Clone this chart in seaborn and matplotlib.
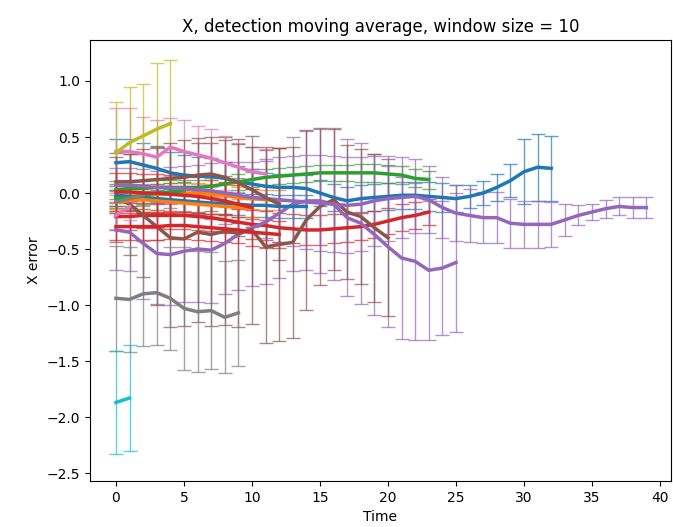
import matplotlib
matplotlib.use("Agg")
import matplotlib.pyplot as plt
import seaborn as sns
import pandas as pd

# ---- data (mean and symmetric error per series; x = time index 0..n-1) ----
blue1_y = [0.27,0.28,0.25,0.22,0.18,0.16,0.15,0.15,0.13,0.10,0.08,0.06,0.05,0.05,0.04,0.00,-0.04,-0.07,-0.05,-0.04,-0.03,-0.02,-0.02,-0.03,-0.04,-0.05,-0.03,0.00,0.05,0.11,0.19,0.23,0.22]
blue1_e = [0.21,0.20,0.20,0.19,0.19,0.18,0.17,0.16,0.15,0.14,0.13,0.12,0.12,0.12,0.12,0.12,0.12,0.12,0.12,0.12,0.12,0.12,0.12,0.13,0.13,0.12,0.10,0.11,0.12,0.15,0.29,0.30,0.29]
orange1_y = [-0.04,-0.03,-0.02,-0.01,0.00,0.00,0.00,-0.01,-0.02,-0.04,-0.05,-0.06,-0.06]
orange1_e = [0.10,0.09,0.09,0.09,0.09,0.09,0.09,0.09,0.09,0.09,0.09,0.09,0.09]
green1_y = [0.03,0.04,0.04,0.05,0.05,0.05,0.05,0.06,0.08,0.10,0.12,0.14,0.15,0.16,0.17,0.18,0.18,0.18,0.18,0.18,0.17,0.16,0.13,0.12]
green1_e = [0.08,0.08,0.07,0.07,0.07,0.07,0.07,0.07,0.07,0.07,0.07,0.07,0.07,0.07,0.07,0.07,0.07,0.07,0.08,0.08,0.08,0.08,0.08,0.08]
red1_y = [-0.21,-0.21,-0.20,-0.20,-0.20,-0.20,-0.21,-0.22,-0.24,-0.26,-0.28,-0.29,-0.31,-0.32,-0.33,-0.33,-0.32,-0.31,-0.30,-0.28,-0.25,-0.22,-0.20,-0.17]
red1_e = [0.12,0.12,0.11,0.11,0.12,0.12,0.12,0.12,0.12,0.12,0.13,0.13,0.13,0.13,0.13,0.13,0.13,0.13,0.12,0.12,0.12,0.12,0.12,0.12]
purple1_y = [-0.33,-0.35,-0.45,-0.54,-0.55,-0.52,-0.50,-0.51,-0.45,-0.37,-0.31,-0.26,-0.18,-0.10,-0.07,-0.07,-0.10,-0.22,-0.27,-0.37,-0.48,-0.58,-0.61,-0.69,-0.67,-0.62]
purple1_e = [0.36,0.35,0.50,0.45,0.45,0.45,0.47,0.47,0.45,0.50,0.52,0.55,0.58,0.60,0.62,0.64,0.68,0.70,0.72,0.72,0.72,0.72,0.70,0.62,0.60,0.62]
brown1_y = [-0.04,-0.10,-0.20,-0.30,-0.40,-0.41,-0.35,-0.37,-0.34,-0.36,-0.33,-0.48,-0.46,-0.44,-0.24,-0.12,-0.06,-0.17,-0.21,-0.31,-0.40]
brown1_e = [0.40,0.45,0.55,0.70,0.80,0.78,0.80,0.82,0.84,0.84,0.84,0.86,0.86,0.85,0.80,0.70,0.63,0.60,0.60,0.66,0.70]
pink1_y = [0.37,0.37,0.35,0.32,0.41,0.37,0.34,0.31,0.27,0.23,0.19,0.17]
pink1_e = [0.39,0.39,0.33,0.33,0.26,0.28,0.26,0.26,0.24,0.22,0.22,0.22]
gray1_y = [-0.94,-0.95,-0.90,-0.89,-0.94,-1.03,-1.06,-1.05,-1.11,-1.07]
gray1_e = [0.47,0.47,0.47,0.47,0.46,0.55,0.54,0.52,0.50,0.47]
olive1_y = [0.36,0.45,0.51,0.57,0.62]
olive1_e = [0.45,0.50,0.46,0.59,0.57]
cyan1_y = [-1.87,-1.83]
cyan1_e = [0.46,0.47]
blue2_y = [-0.02,-0.03,-0.04,-0.05,-0.06,-0.07,-0.08,-0.09,-0.09,-0.10,-0.11,-0.11,-0.12,-0.12,-0.12]
blue2_e = [0.10,0.10,0.10,0.10,0.10,0.10,0.10,0.10,0.10,0.10,0.10,0.10,0.10,0.10,0.10]
orange2_y = [-0.08,-0.07,-0.06,-0.07,-0.08,-0.09,-0.10,-0.11,-0.12,-0.13,-0.13]
orange2_e = [0.08,0.08,0.08,0.08,0.08,0.08,0.08,0.08,0.08,0.08,0.08]
green2_y = [-0.05,-0.04,-0.02,0.00,0.01,0.02]
green2_e = [0.08,0.08,0.08,0.08,0.08,0.08]
red2_y = [-0.30,-0.30,-0.30,-0.30,-0.29,-0.29,-0.30,-0.31,-0.32,-0.33,-0.35,-0.36,-0.37]
red2_e = [0.12,0.12,0.12,0.12,0.12,0.12,0.12,0.12,0.12,0.12,0.12,0.12,0.12]
red3_y = [0.01,0.01,0.00,0.00,-0.01,-0.02,-0.03,-0.05,-0.07,-0.10,-0.13]
red3_e = [0.17,0.17,0.17,0.17,0.17,0.17,0.17,0.17,0.17,0.17,0.17]
purple2_y = [0.07,0.07,0.06,0.05,0.05,0.04,0.03,0.02,0.00,-0.02,-0.04,-0.05,-0.06,-0.07,-0.08,-0.09,-0.10,-0.11,-0.10,-0.07,-0.05,-0.04,-0.03,-0.06,-0.13,-0.18,-0.20,-0.22,-0.22,-0.27,-0.28,-0.28,-0.28,-0.24,-0.20,-0.17,-0.14,-0.12,-0.13,-0.13]
purple2_e = [0.15,0.15,0.15,0.15,0.18,0.20,0.22,0.25,0.28,0.30,0.32,0.35,0.38,0.40,0.42,0.43,0.43,0.43,0.42,0.40,0.38,0.36,0.33,0.30,0.27,0.25,0.24,0.23,0.23,0.22,0.21,0.21,0.20,0.14,0.09,0.07,0.08,0.08,0.09,0.09]
brown2_y = [0.10,0.10,0.11,0.12,0.13,0.14,0.16,0.17,0.14,0.09,0.03,-0.04,-0.10]
brown2_e = [0.22,0.25,0.28,0.30,0.32,0.33,0.33,0.33,0.33,0.35,0.38,0.45,0.50]
pink2_y = [-0.20,-0.12]
pink2_e = [0.12,0.12]
gray2_y = [-0.08,-0.05,-0.02]
gray2_e = [0.10,0.10,0.10]

title = "X, detection moving average, window size = 10"
x_label = "Time"
y_label = "X error"
x_ticks = [0, 5, 10, 15, 20, 25, 30, 35, 40]
y_ticks = [-2.5, -2.0, -1.5, -1.0, -0.5, 0.0, 0.5, 1.0]

series = [
    ("C0", blue1_y, blue1_e), ("C1", orange1_y, orange1_e), ("C2", green1_y, green1_e),
    ("C3", red1_y, red1_e), ("C4", purple1_y, purple1_e), ("C5", brown1_y, brown1_e),
    ("C6", pink1_y, pink1_e), ("C7", gray1_y, gray1_e), ("C8", olive1_y, olive1_e),
    ("C9", cyan1_y, cyan1_e), ("C0", blue2_y, blue2_e), ("C1", orange2_y, orange2_e),
    ("C2", green2_y, green2_e), ("C3", red2_y, red2_e), ("C4", purple2_y, purple2_e),
    ("C5", brown2_y, brown2_e), ("C6", pink2_y, pink2_e), ("C7", gray2_y, gray2_e),
    ("C3", red3_y, red3_e),
]

palette = dict(zip(["C%d" % i for i in range(10)], sns.color_palette("tab10", 10)))

fig = plt.figure(figsize=(6.73, 5.27), dpi=100)
ax = fig.add_axes([0.1337, 0.0873, 0.8633, 0.8368])

for key, ys, es in series:
    col = palette[key]
    df = pd.DataFrame({"t": list(range(len(ys))), "v": ys, "e": es})
    ax.errorbar(df["t"], df["v"], yerr=df["e"], fmt="none", ecolor=col,
                elinewidth=1.0, capsize=5, alpha=0.7, zorder=2)
    sns.lineplot(data=df, x="t", y="v", color=col, linewidth=2.5, ax=ax,
                 errorbar=None, zorder=3)

ax.set_xlim(-1.91, 40.81)
ax.set_ylim(-2.571, 1.366)
ax.set_xticks(x_ticks)
ax.set_yticks(y_ticks)
ax.set_title(title, fontsize=12)
ax.set_xlabel(x_label)
ax.set_ylabel(y_label)

fig.savefig("out.png", dpi=100)
